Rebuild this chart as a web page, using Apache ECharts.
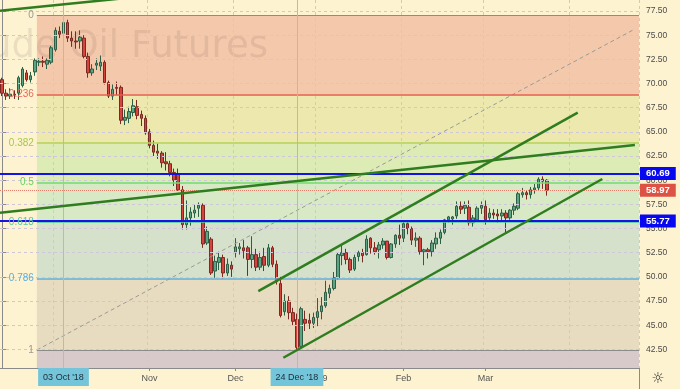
<!DOCTYPE html>
<html><head><meta charset="utf-8">
<script src="https://cdn.jsdelivr.net/npm/echarts@6/dist/echarts.min.js"></script>
<style>html,body{margin:0;padding:0;background:#FEF3D1}#c{width:680px;height:389px}</style>
</head><body><div id="c"></div>
<script>
// ---- data ----
const dates = [
 '2018-09-12','2018-09-13','2018-09-14','2018-09-17','2018-09-18','2018-09-19','2018-09-20','2018-09-21','2018-09-24','2018-09-25','2018-09-26','2018-09-27','2018-09-28',
 '2018-10-01','2018-10-02','2018-10-03','2018-10-04','2018-10-05','2018-10-08','2018-10-09','2018-10-10','2018-10-11','2018-10-12','2018-10-15','2018-10-16','2018-10-17','2018-10-18','2018-10-19','2018-10-22','2018-10-23','2018-10-24','2018-10-25','2018-10-26','2018-10-29','2018-10-30','2018-10-31',
 '2018-11-01','2018-11-02','2018-11-05','2018-11-06','2018-11-07','2018-11-08','2018-11-09','2018-11-12','2018-11-13','2018-11-14','2018-11-15','2018-11-16','2018-11-19','2018-11-20','2018-11-21','2018-11-23','2018-11-26','2018-11-27','2018-11-28','2018-11-29','2018-11-30',
 '2018-12-03','2018-12-04','2018-12-05','2018-12-06','2018-12-07','2018-12-10','2018-12-11','2018-12-12','2018-12-13','2018-12-14','2018-12-17','2018-12-18','2018-12-19','2018-12-20','2018-12-21','2018-12-24','2018-12-26','2018-12-27','2018-12-28','2018-12-31',
 '2019-01-02','2019-01-03','2019-01-04','2019-01-07','2019-01-08','2019-01-09','2019-01-10','2019-01-11','2019-01-14','2019-01-15','2019-01-16','2019-01-17','2019-01-18','2019-01-22','2019-01-23','2019-01-24','2019-01-25','2019-01-28','2019-01-29','2019-01-30','2019-01-31',
 '2019-02-01','2019-02-04','2019-02-05','2019-02-06','2019-02-07','2019-02-08','2019-02-11','2019-02-12','2019-02-13','2019-02-14','2019-02-15','2019-02-18','2019-02-19','2019-02-20','2019-02-21','2019-02-22','2019-02-25','2019-02-26','2019-02-27','2019-02-28',
 '2019-03-01','2019-03-04','2019-03-05','2019-03-06','2019-03-07','2019-03-08','2019-03-11','2019-03-12','2019-03-13','2019-03-14','2019-03-15','2019-03-18','2019-03-19','2019-03-20','2019-03-21','2019-03-22'
];
const futureDates = ['2019-03-25','2019-03-26','2019-03-27','2019-03-28','2019-03-29','2019-04-01','2019-04-02','2019-04-03','2019-04-04','2019-04-05','2019-04-08','2019-04-09','2019-04-10','2019-04-11','2019-04-12','2019-04-15','2019-04-16','2019-04-17','2019-04-18','2019-04-22','2019-04-23','2019-04-24'];

const opens = [
 70.4,69.0,68.7,68.9,69.0,69.8,71.1,70.4,71.2,72.2,72.3,72.0,72.2,
 73.5,75.4,75.2,76.3,74.7,74.4,74.4,74.7,72.8,71.1,71.9,71.8,72.2,70.1,68.7,69.6,69.6,66.2,66.4,67.0,67.6,66.8,66.4,
 65.0,63.6,63.0,62.8,61.9,61.7,60.8,60.6,59.0,55.4,56.1,56.6,57.1,57.4,53.5,53.9,50.6,51.5,52.0,50.4,51.2,
 52.5,52.9,53.0,53.0,51.8,52.3,51.0,52.1,51.2,53.0,51.3,49.3,46.4,47.5,46.3,45.6,42.8,45.6,45.5,45.2,
 45.8,46.4,47.0,48.3,48.8,49.9,52.2,52.5,51.8,50.8,52.1,52.5,52.3,54.0,53.0,52.8,53.3,53.7,52.0,53.4,54.3,
 54.0,55.5,55.0,53.8,54.0,52.6,52.8,52.6,53.4,54.0,54.6,55.9,56.0,56.3,57.3,57.1,57.2,55.6,55.9,57.1,
 57.3,56.1,56.6,56.5,56.3,56.6,56.1,56.9,57.1,58.5,58.7,58.5,59.0,59.2,60.1,60.0
];
const closes = [
 69.0,68.7,68.9,68.8,70.6,71.5,70.4,70.8,72.4,72.3,72.2,72.4,73.7,
 75.5,75.1,76.3,74.7,74.4,74.3,74.8,72.8,71.1,71.5,72.1,72.2,70.1,68.7,69.4,69.5,66.2,66.5,67.1,67.7,66.7,66.4,64.9,
 63.6,62.9,62.8,61.8,61.7,60.8,60.0,59.0,55.4,56.1,56.7,56.9,57.4,53.4,54.7,50.4,51.6,52.0,50.4,51.3,50.8,
 53.1,53.1,52.7,51.8,52.3,51.0,52.0,51.2,53.0,51.3,49.5,46.0,47.5,46.3,45.4,42.7,46.7,45.2,45.2,45.8,
 46.4,47.0,48.4,48.8,49.9,52.3,52.5,51.8,50.7,52.0,52.5,52.2,53.9,53.0,52.6,53.3,53.7,52.0,53.4,54.3,54.0,
 55.5,55.0,53.8,54.0,52.6,52.8,52.6,53.5,54.0,54.6,55.9,56.2,56.2,57.3,57.0,57.4,55.6,56.1,57.1,57.4,
 55.9,56.6,56.4,56.3,56.6,56.1,56.9,57.3,58.6,58.7,58.5,59.0,59.2,60.1,59.9,58.97
];
const lows = [
 68.7,68.3,68.4,68.4,68.3,69.6,70.2,70.1,70.8,71.8,71.7,71.5,72.0,
 73.3,74.7,74.9,74.3,73.8,73.6,73.6,72.6,70.6,70.8,71.4,71.3,69.9,68.5,68.3,68.8,65.8,65.7,65.9,66.6,66.3,65.6,64.7,
 63.3,62.5,62.2,61.3,61.0,60.4,59.4,58.9,54.9,54.9,55.3,56.1,56.2,53.0,53.3,50.2,49.9,50.7,49.8,50.1,50.0,
 52.0,52.3,51.9,50.1,50.9,50.6,50.7,50.6,51.0,51.0,49.2,45.8,46.0,45.6,45.0,42.4,42.6,44.4,44.6,44.7,
 44.9,45.6,46.8,47.8,48.6,49.7,51.2,51.3,50.4,50.6,51.6,51.5,52.2,52.4,52.3,51.9,52.9,51.8,51.9,53.0,53.3,
 53.6,54.4,53.3,53.1,52.3,51.2,51.9,52.1,52.9,53.4,54.4,55.6,55.4,56.0,56.5,56.5,55.3,55.2,55.7,56.5,
 55.4,55.8,56.0,55.6,55.8,54.5,55.9,56.4,56.9,58.2,58.0,58.1,58.6,58.9,59.1,58.4
];
const highs = [
 70.6,69.4,69.5,69.3,70.8,71.7,71.4,71.2,72.6,72.6,72.8,72.6,73.9,
 75.8,75.9,77.0,76.6,75.4,75.4,75.5,75.0,73.2,72.0,72.6,72.9,72.4,70.3,69.9,70.2,69.8,67.3,67.6,68.4,68.3,67.2,66.7,
 65.3,64.1,63.8,63.0,62.9,62.0,61.2,61.2,59.4,57.9,57.2,57.5,57.7,57.6,55.2,54.1,52.2,52.6,52.3,51.9,51.6,
 54.0,53.5,53.8,53.2,54.2,52.9,52.6,53.0,53.4,53.2,51.7,50.0,48.2,48.0,46.8,46.2,46.9,46.5,46.2,46.3,
 47.8,47.9,49.6,49.2,50.5,52.5,53.2,52.9,52.0,52.3,52.7,52.9,54.3,54.1,53.6,53.6,54.0,53.7,53.5,54.4,55.4,
 55.7,55.7,55.2,54.6,54.2,52.9,53.0,53.8,54.6,54.9,56.0,56.3,56.3,57.8,57.8,57.8,57.9,56.4,57.3,57.8,
 57.9,57.1,57.0,57.0,57.0,56.9,57.0,57.6,58.8,59.2,58.9,59.3,59.6,60.3,60.4,60.1
];

const yTicks = [42.5,45,47.5,50,52.5,55,57.5,60,62.5,65,67.5,70,72.5,75,77.5];
const monthLabels = {'2018-10-01':'Oct','2018-11-01':'Nov','2018-12-03':'Dec','2019-01-02':'2019','2019-02-01':'Feb','2019-03-01':'Mar','2019-04-01':'Apr'};
const markedDates = ['2018-10-03','2018-12-24'];
const markedDateLabels = ["03 Oct '18","24 Dec '18"];

const fibHigh = 77.06, fibLow = 42.43;
const fibRatios = [0, 0.236, 0.382, 0.5, 0.618, 0.786, 1];
const fibLabels = ['0','0.236','0.382','0.5','0.618','0.786','1'];
const fibStartBar = 8.5;           // fib drawing starts between Sep 24 and Sep 25
const fibDiagonal = [[8.5, 42.43], [154.5, 75.64]];

const priceLevels = [60.69, 55.77];
const lastPrice = 58.97;

// trend lines: [bar index, price] endpoints
const trendLines = [
 [[-0.5, 77.53], [40, 79.26]],
 [[-0.5, 56.63], [154.5, 63.64]],
 [[62.56, 48.53], [140.54, 66.98]],
 [[68.67, 41.63], [146.54, 60.12]]
];

// ---- styles ----
const Y_MIN = 40.57, Y_MAX = 78.64;
const fibLineColors = ['#8c8c8c','#E85A4F','#B3D25A','#6EDC6E','#4CC79E','#62AEDD','#8c8c8c'];
const fibLabelColors = ['#9a9a9a','#E8675A','#A6C84A','#62D462','#56C9A2','#5DAEDD','#9a9a9a'];
const fibZoneColors = ['#F4C8AA','#EDE9AE','#DDEBB5','#D8EAC5','#D5E1CB','#E8DCC0','#D8CACB'];
const FONT = 'Liberation Sans, Arial, sans-serif';

const categories = dates.concat(futureDates);
const X_MAX = categories.length - 0.5;
const candleData = opens.map((o, i) => [o, closes[i], lows[i], highs[i]]);
const fibPrices = fibRatios.map(r => fibHigh - r * (fibHigh - fibLow));

const zoneAreas = fibPrices.map((p, i) => [
  {xAxis: fibStartBar, yAxis: p, itemStyle: {color: fibZoneColors[i]}},
  {xAxis: X_MAX, yAxis: i < fibPrices.length - 1 ? fibPrices[i + 1] : Y_MIN}
]);
const fibLineData = fibPrices.map((p, i) => [
  {coord: [fibStartBar, p], lineStyle: {color: fibLineColors[i], width: (i===0||i===6)?1.2:1.5, type:'solid'},
   label: {formatter: fibLabels[i], color: fibLabelColors[i]}},
  {coord: [X_MAX, p]}
]);

const chart = echarts.init(document.getElementById('c'), null, {width: 680, height: 389});
const dummy = [[-100, 0]];

const series = [
  {type: 'line', xAxisIndex: 1, data: dummy, z: 1, silent: true, symbol: 'none', lineStyle: {opacity: 0},
   markArea: {silent: true, data: zoneAreas}},
  {type: 'line', xAxisIndex: 1, data: dummy, z: 2, silent: true, symbol: 'none', lineStyle: {opacity: 0},
   markLine: {silent: true, symbol: ['none','none'], label: {show: false},
     lineStyle: {color: '#CFC6D8', width: 1, type: [3, 3]},
     data: yTicks.map(v => ({yAxis: v}))}},
  {type: 'candlestick', xAxisIndex: 0, data: candleData, z: 3, barWidth: 3,
   itemStyle: {color: '#5BA584', color0: '#D6453D', borderColor: '#2E5E45', borderColor0: '#7A2A22', borderWidth: 1}},
  {type: 'line', xAxisIndex: 1, data: dummy, z: 4, silent: true, symbol: 'none', lineStyle: {opacity: 0},
   markLine: {silent: true, symbol: ['none','none'],
     label: {show: true, position: 'start', distance: 3, fontSize: 10, fontFamily: FONT},
     data: fibLineData}},
  {type: 'line', xAxisIndex: 1, data: fibDiagonal, z: 4, silent: true, symbol: 'none',
   lineStyle: {color: '#9a9a9a', width: 1, type: [4, 3]}},
  {type: 'line', xAxisIndex: 0, data: [], z: 4, silent: true, symbol: 'none',
   markLine: {silent: true, symbol: ['none','none'],
     data: markedDates.map((d, i) => ({xAxis: d,
       lineStyle: {color: '#86CCE0', width: 1, type: 'solid'},
       label: {show: true, position: 'start', distance: 0, formatter: markedDateLabels[i],
         backgroundColor: '#74C4DA', color: '#1d2b36', padding: [5, 5, 4, 5], fontSize: 9, fontFamily: FONT}}))}}
];
trendLines.forEach(tl => series.push({type: 'line', xAxisIndex: 1, data: tl, z: 5, silent: true, symbol: 'none',
  lineStyle: {color: '#2F7D1F', width: 2.5}}));
series.push({type: 'line', xAxisIndex: 0, data: [], z: 6, silent: true, symbol: 'none',
  markLine: {silent: true, symbol: ['none','none'],
    data: priceLevels.map(v => ({yAxis: v, lineStyle: {color: '#1414E6', width: 2, type: 'solid'},
      label: {show: true, position: 'end', distance: 1, formatter: v.toFixed(2), backgroundColor: '#0808F0',
        color: '#fff', padding: [2, 6, 1, 6], fontSize: 9.5, fontWeight: 'bold', fontFamily: FONT}}))
      .concat([{yAxis: lastPrice, lineStyle: {color: '#E2806E', width: 1, type: 'dotted'},
      label: {show: true, position: 'end', distance: 1, formatter: lastPrice.toFixed(2), backgroundColor: '#DC5244',
        color: '#fff', padding: [2, 6, 1, 6], fontSize: 9.5, fontWeight: 'bold', fontFamily: FONT}}])}});

chart.setOption({
  animation: false,
  backgroundColor: '#FEF3D1',
  grid: {left: 0, right: 41, top: 0, bottom: 21, containLabel: false},
  xAxis: [
    {type: 'category', data: categories, boundaryGap: true, z: 2,
     axisLine: {show: true, lineStyle: {color: '#8a8a8a'}},
     axisTick: {show: true, alignWithLabel: true, length: 3, interval: (i, v) => !!monthLabels[v], lineStyle: {color: '#8a8a8a'}},
     axisLabel: {interval: (i, v) => !!monthLabels[v], formatter: v => monthLabels[v] || '', showMinLabel: false, showMaxLabel: false,
       color: '#555', fontSize: 9, margin: 6, fontFamily: FONT},
     splitLine: {show: true, interval: (i, v) => !!monthLabels[v], lineStyle: {color: '#CFC6D8', width: 1, type: [3, 3]}}},
    {type: 'value', min: -0.5, max: X_MAX, show: false}
  ],
  yAxis: {type: 'value', position: 'right', min: Y_MIN, max: Y_MAX, z: 2,
    axisLine: {show: true, lineStyle: {color: '#8a8a8a'}},
    axisTick: {show: true, length: 4, customValues: yTicks, lineStyle: {color: '#8a8a8a'}},
    axisLabel: {customValues: yTicks, formatter: v => v.toFixed(2), color: '#4a4a4a', fontSize: 8.5, margin: 7, fontFamily: FONT},
    splitLine: {show: false}},
  graphic: [
    {type: 'text', z: 2, silent: true, style: {text: 'Crude Oil Futures', x: 268, y: 47, align: 'right', verticalAlign: 'middle',
      font: '37px "DejaVu Sans", sans-serif', fill: 'rgba(110,85,75,0.13)'}},
    {type: 'line', z: 2, silent: true, shape: {x1: 639.5, y1: 368, x2: 639.5, y2: 389}, style: {stroke: '#8a8a8a', lineWidth: 1}},
    {type: 'text', z: 2, silent: true, style: {text: '\u263C', x: 658, y: 379, align: 'center', verticalAlign: 'middle',
      font: '15px "DejaVu Sans", sans-serif', fill: '#333'}}
  ],
  series: series
});
</script></body></html>
